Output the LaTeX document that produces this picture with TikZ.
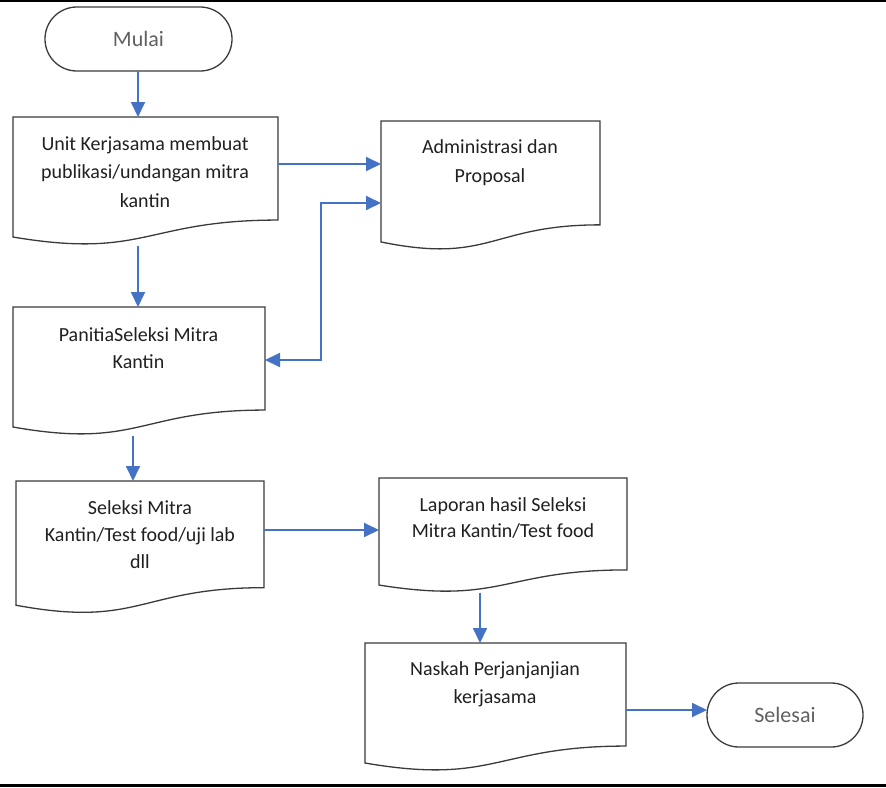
\documentclass[tikz,border=0pt]{standalone}
\usepackage{fontspec}
\setmainfont{Carlito}
\usetikzlibrary{arrows.meta,calc}
\definecolor{flowblue}{HTML}{4472C4}
\definecolor{outlinecol}{HTML}{3A3A3A}
\definecolor{termtext}{HTML}{606060}
\definecolor{boxtext}{HTML}{202020}
\newcommand\docpath[1]{%
  \draw[docline] let \p1=(#1.north west), \p2=(#1.south east) in
  (\x1,\y1) -- (\x2,\y1) -- (\x2,{\y1+0.802*(\y2-\y1)})
  .. controls ({0.5*(\x1+\x2)},{\y1+0.802*(\y2-\y1)}) and ({0.5*(\x1+\x2)},{\y1+1.1075*(\y2-\y1)}) ..
  (\x1,{\y1+0.934*(\y2-\y1)}) -- cycle;}
\begin{document}
\begin{tikzpicture}[x=1pt,y=-1pt,
  docbox/.style={draw=none, inner sep=0pt, outer sep=0pt},
  docline/.style={draw=outlinecol, line width=1.3pt, fill=white},
  term/.style={draw=outlinecol, line width=1.3pt, rounded corners=31.9pt, inner sep=0pt, outer sep=0pt,
    text=termtext, font=\fontsize{22}{26}\selectfont},
  txt/.style={align=center, inner sep=0pt, text=boxtext},
  flow/.style={draw=flowblue, line width=1.9pt, -{Triangle[length=15pt,width=14pt]}},
  flow2/.style={draw=flowblue, line width=1.9pt, {Triangle[length=15pt,width=14pt]}-{Triangle[length=15pt,width=14pt]}},
  frameline/.style={draw=black}
]
\useasboundingbox (0,0) rectangle (886,787);
\draw[frameline, line width=2pt] (0,1) -- (886,1);
\draw[frameline, line width=3pt] (0,785.5) -- (886,785.5);

% terminals
\node[term, minimum width=187pt, minimum height=64pt] (mulai) at (138.5,39) {\raisebox{-3pt}{Mulai}};
\node[term, minimum width=156pt, minimum height=64pt] (selesai) at (785,715) {\raisebox{-3pt}{Selesai}};

% document shapes
\node[docbox, minimum width=265pt, minimum height=128.5pt] (unit) at (145.5,181.25) {};
\node[docbox, minimum width=219pt, minimum height=129.5pt] (admin) at (490.5,185.75) {};
\node[docbox, minimum width=252pt, minimum height=128.5pt] (panitia) at (139,371.25) {};
\node[docbox, minimum width=248pt, minimum height=133pt] (seleksi) at (140,547.5) {};
\node[docbox, minimum width=248pt, minimum height=114.6pt] (laporan) at (503,535.3) {};
\node[docbox, minimum width=261pt, minimum height=128.5pt] (naskah) at (495.5,707.25) {};
\docpath{unit}
\docpath{admin}
\docpath{panitia}
\docpath{seleksi}
\docpath{laporan}
\docpath{naskah}

% texts
\node[txt, font=\fontsize{20}{28.5}\selectfont] (unit-t) at (145,172) {Unit Kerjasama membuat\\publikasi/undangan mitra\\kantin};
\node[txt, font=\fontsize{20}{29}\selectfont] (admin-t) at (490,162.5) {Administrasi dan\\Proposal};
\node[txt, font=\fontsize{20}{27}\selectfont] (panitia-t) at (138.5,348.5) {PanitiaSeleksi Mitra\\Kantin};
\node[txt, font=\fontsize{20}{27}\selectfont] (seleksi-t) at (140,535) {Seleksi Mitra\\Kantin/Test food/uji lab\\dll};
\node[txt, font=\fontsize{20}{26}\selectfont] (laporan-t) at (503,518) {Laporan hasil Seleksi\\Mitra Kantin/Test food};
\node[txt, font=\fontsize{20}{28}\selectfont] (naskah-t) at (495,684) {Naskah Perjanjanjian\\kerjasama};

% connectors
\draw[flow] (mulai.south -| 138,0) -- (unit.north -| 138,0);
\draw[flow] (unit.east |- 0,164) -- (admin.west |- 0,164);
\draw[flow] (unit.south -| 138,0) -- (panitia.north -| 138,0);
\draw[flow2] (panitia.east |- 0,360) -- (321,360) |- (admin.west |- 0,203);
\draw[flow] (panitia.south -| 133,0) -- (seleksi.north -| 133,0);
\draw[flow] (seleksi.east |- 0,530) -- (laporan.west |- 0,530);
\draw[flow] (laporan.south -| 480,0) -- (naskah.north -| 480,0);
\draw[flow] (naskah.east |- 0,710) -- (selesai.west |- 0,710);
\end{tikzpicture}
\end{document}
